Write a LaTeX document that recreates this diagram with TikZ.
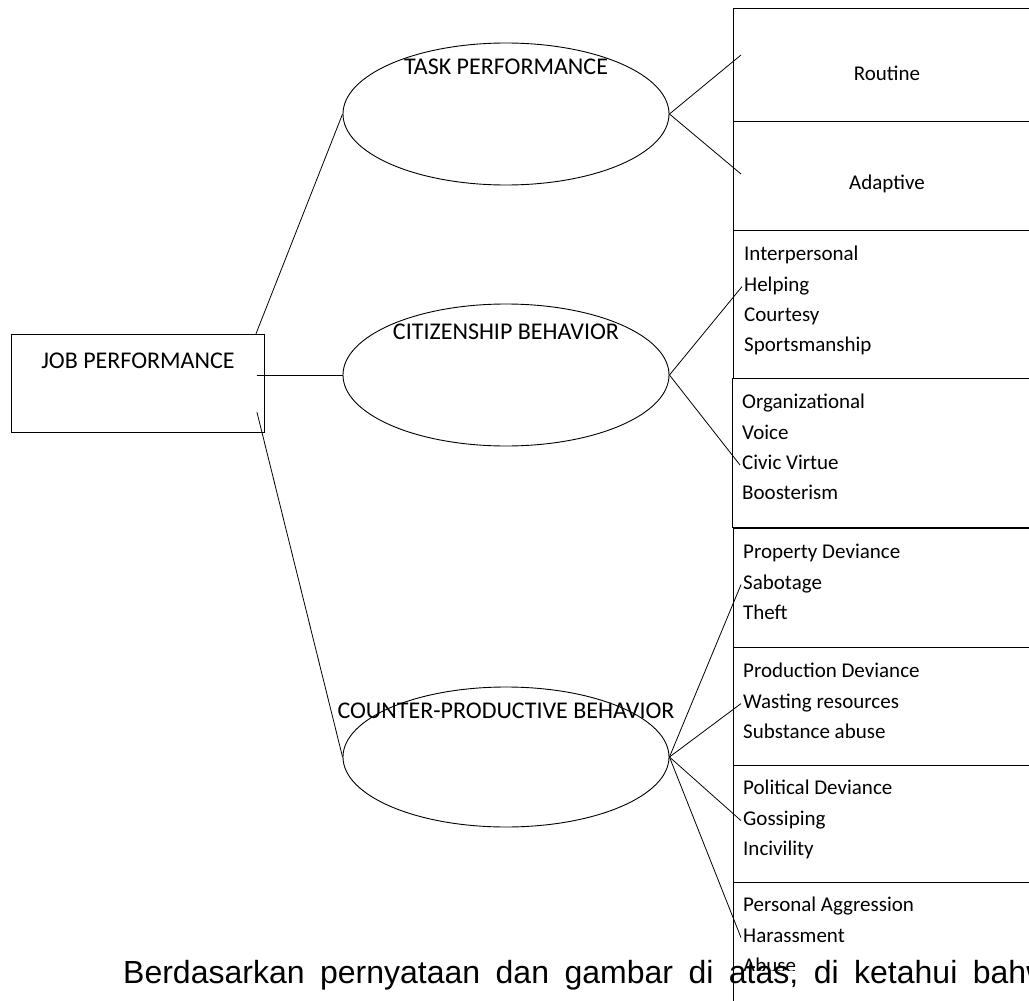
\documentclass[tikz,border=0pt]{standalone}
\usepackage{fontspec}
\setmainfont{Carlito}
\newfontfamily\notefont{Liberation Sans}
\usetikzlibrary{shapes.geometric,calc}

\begin{document}
\begin{tikzpicture}[
    x=1pt, y=-1pt,
    every node/.style={font=\fontsize{21}{25}\selectfont},
    perf/.style={draw, ellipse, minimum width=326pt, minimum height=142pt, inner sep=0pt, line width=0.9pt},
    perflabel/.style={font=\fontsize{24}{28}\selectfont},
    framebox/.style={draw, rectangle, anchor=north west, minimum width=307pt, inner sep=0pt, line width=0.9pt},
    item/.style={anchor=north west, inner xsep=2pt, inner ysep=5.5pt, text height=14pt, text depth=5pt},
    link/.style={line width=0.8pt}
]
\useasboundingbox (0,0) rectangle (1029,1001);

% Job performance
\node (job) [framebox, minimum width=253pt, minimum height=98pt] at (11,334) {};
\node (jobtext) [perflabel] at ($(job.north)+(0,27)$) {JOB PERFORMANCE};
\coordinate (jobtop) at ($(job.north east)+(-9,0)$);
\coordinate (jobmid) at ($(job.north east)+(-8,41)$);
\coordinate (jobbot) at ($(job.north east)+(-8,78)$);

% Dimensions
\node (task) [perf, label={[perflabel, label distance=-36pt]north:TASK PERFORMANCE}] at (506,114) {};
\node (cit) [perf, label={[perflabel, label distance=-40pt]north:CITIZENSHIP BEHAVIOR}] at (506,375) {};
\node (cpb) [perf, minimum height=140pt, label={[perflabel, label distance=-36pt]north:COUNTER-PRODUCTIVE BEHAVIOR}] at (506,757) {};

% Task performance boxes
\node (routinebox) [framebox, minimum height=113pt] at (733,8) {};
\node (adaptivebox) [framebox, minimum height=109pt] at (733,121) {};
\node (routine) at ($(routinebox.center)+(0,8)$) {Routine};
\node (adaptive) at ($(adaptivebox.center)+(0,8)$) {Adaptive};
\coordinate (routinept) at ($(routinebox.north west)+(8,47)$);
\coordinate (adaptivept) at ($(adaptivebox.north west)+(8,53)$);

% Citizenship boxes
\node (interbox) [framebox, minimum height=148pt] at (733,230) {};
\node (orgbox) [framebox, minimum height=149pt] at (732,378) {};
\node (interp) [item] at (742,241) {Interpersonal};
\node (helping) [item] at (interp.south west) {Helping};
\node (courtesy) [item] at (helping.south west) {Courtesy};
\node (sports) [item] at (courtesy.south west) {Sportsmanship};
\node (org) [item] at (740,389) {Organizational};
\node (voice) [item] at (org.south west) {Voice};
\node (civic) [item] at (voice.south west) {Civic Virtue};
\node (booster) [item] at (civic.south west) {Boosterism};

% Counterproductive boxes
\node (propbox) [framebox, minimum height=119pt] at (733,528) {};
\node (prodbox) [framebox, minimum height=118pt] at (733,647) {};
\node (polbox) [framebox, minimum height=117pt] at (733,765) {};
\node (persbox) [framebox, minimum height=130pt] at (733,882) {};
\node (propdev) [item] at (741,539) {Property Deviance};
\node (sabotage) [item] at (propdev.south west) {Sabotage};
\node (theft) [item] at (sabotage.south west) {Theft};
\node (proddev) [item] at (741,658) {Production Deviance};
\node (wasting) [item] at (proddev.south west) {Wasting resources};
\node (substance) [item] at (wasting.south west) {Substance abuse};
\node (poldev) [item] at (741,775) {Political Deviance};
\node (gossip) [item] at (poldev.south west) {Gossiping};
\node (incivil) [item] at (gossip.south west) {Incivility};
\node (persagg) [item] at (741,892) {Personal Aggression};
\node (harass) [item] at (persagg.south west) {Harassment};
\begin{scope}
  \clip (734,900) rectangle (1029,970);
  \node (abuse) [item] at (harass.south west) {Abuse};
\end{scope}

% Connectors
\draw [link] (jobtop) -- (task.west);
\draw [link] (jobmid) -- (cit.west);
\draw [link] (jobbot) -- (cpb.west);
\draw [link] (task.east) -- (routinept);
\draw [link] (task.east) -- (adaptivept);
\draw [link] (cit.east) -- (helping.west);
\draw [link] (cit.east) -- (civic.west);
\draw [link] (cpb.east) -- (sabotage.west);
\draw [link] (cpb.east) -- (wasting.west);
\draw [link] (cpb.east) -- (gossip.west);
\draw [link] (cpb.east) -- (harass.west);

% Text below
\node (note) [anchor=base west, inner sep=0pt, font=\notefont\fontsize{32}{38}\selectfont,
  execute at begin node={\spaceskip=15.5pt\relax}] at (123,983)
  {Berdasarkan pernyataan dan gambar di atas, di ketahui bahwa};
\end{tikzpicture}
\end{document}
